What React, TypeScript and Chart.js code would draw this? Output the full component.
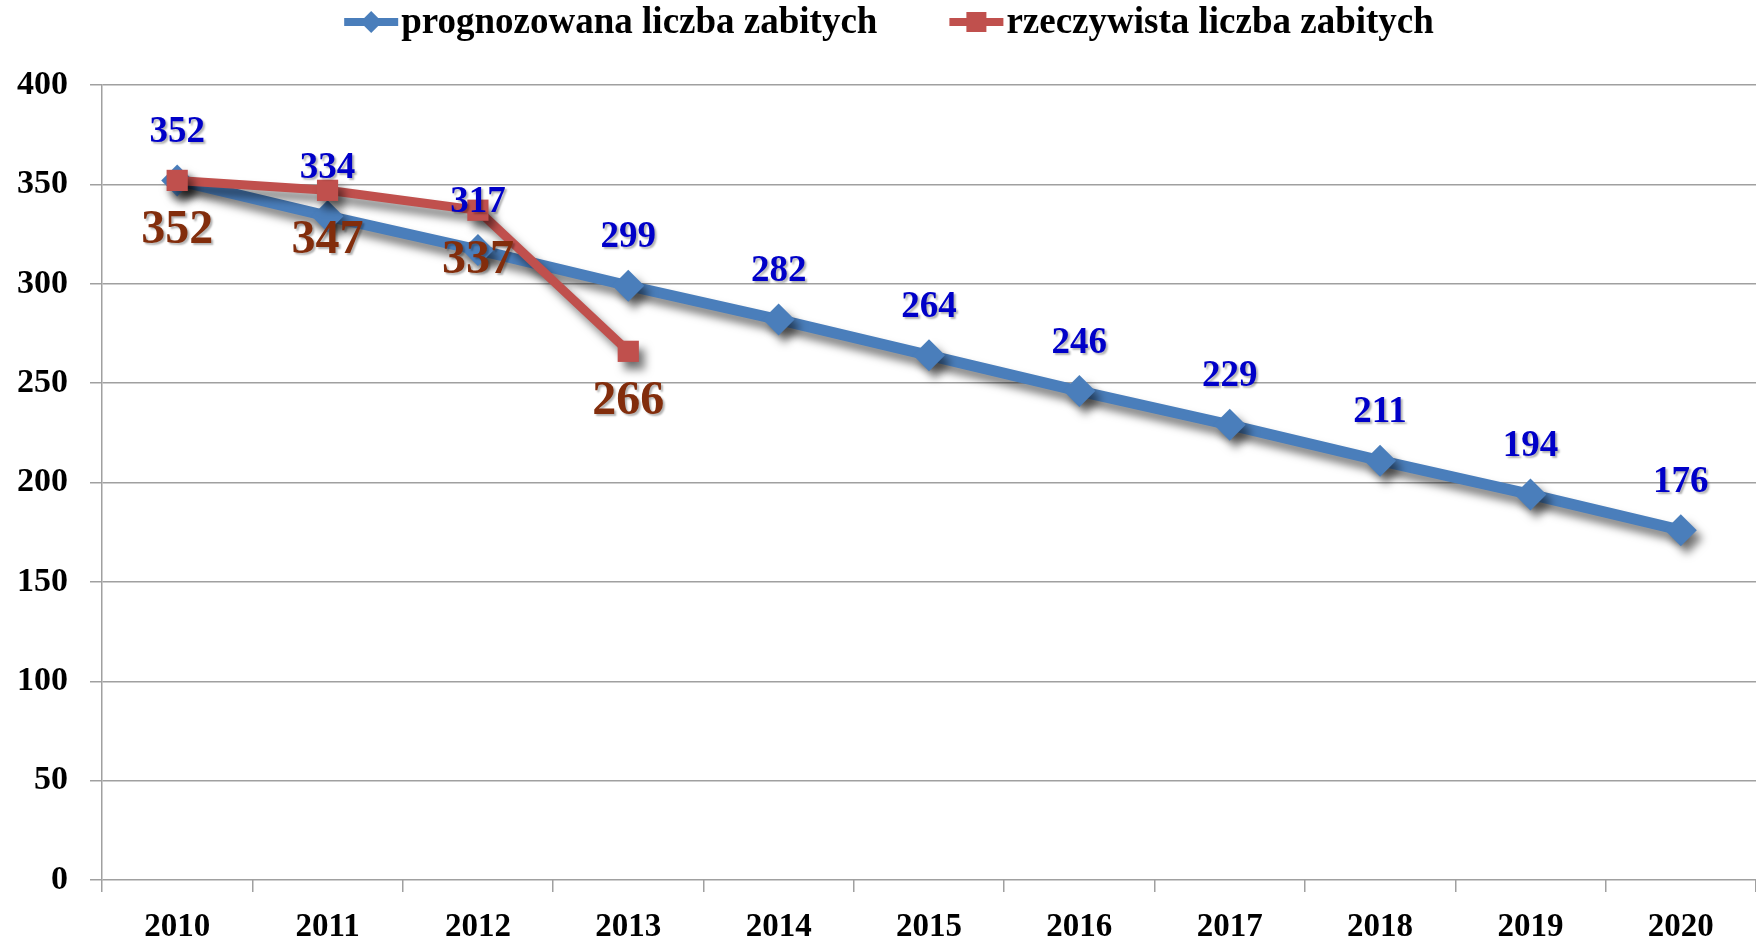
import React, { useEffect, useRef } from 'react';
import { Chart, registerables } from 'chart.js';

Chart.register(...registerables);

const years = ['2010', '2011', '2012', '2013', '2014', '2015', '2016', '2017', '2018', '2019', '2020'];
const forecast = [352, 334, 317, 299, 282, 264, 246, 229, 211, 194, 176];
const actual = [352, 347, 337, 266];
const seriesNames = ['prognozowana liczba zabitych', 'rzeczywista liczba zabitych'];
const yMin = 0;
const yMax = 400;
const yStep = 50;

const BLUE = '#4A7EBB';
const RED = '#C0504D';
const FONT = '"Liberation Serif", "Times New Roman", serif';

const shadowPlugin = {
  id: 'dsShadow',
  beforeDatasetDraw(chart: any) {
    const ctx = chart.ctx;
    ctx.save();
    ctx.shadowColor = 'rgba(0,0,0,0.5)';
    ctx.shadowBlur = 9;
    ctx.shadowOffsetX = 6;
    ctx.shadowOffsetY = 8;
  },
  afterDatasetDraw(chart: any) {
    chart.ctx.restore();
  },
};

const labelPlugin = {
  id: 'valueLabels',
  afterDatasetsDraw(chart: any) {
    const ctx = chart.ctx;
    chart.data.datasets.forEach((ds: any, i: number) => {
      const meta = chart.getDatasetMeta(i);
      const st = ds.labelStyle;
      ctx.save();
      ctx.font = `bold ${st.size}px ${FONT}`;
      ctx.fillStyle = st.color;
      ctx.textAlign = 'center';
      ctx.textBaseline = 'middle';
      ctx.shadowColor = 'rgba(0,0,0,0.3)';
      ctx.shadowBlur = 2;
      ctx.shadowOffsetX = 2;
      ctx.shadowOffsetY = 2;
      meta.data.forEach((pt: any, j: number) => {
        const v = ds.data[j];
        if (v == null) return;
        ctx.fillText(String(v), pt.x, pt.y + st.dy);
      });
      ctx.restore();
    });
  },
};

const legendPlugin = {
  id: 'customLegend',
  afterDraw(chart: any) {
    const ctx = chart.ctx;
    const order = [1, 0];
    const iconW = 54;
    const gapText = 3;
    const gapItem = 72;
    ctx.save();
    ctx.font = `bold 37px ${FONT}`;
    const widths = order.map((i) => ctx.measureText(chart.data.datasets[i].label).width);
    const total = widths.reduce((a: number, w: number) => a + iconW + gapText + w, 0) + gapItem;
    let x = chart.width / 2 + 11 - total / 2;
    const y = 22;
    order.forEach((i, k) => {
      const ds = chart.data.datasets[i];
      ctx.strokeStyle = ds.borderColor;
      ctx.fillStyle = ds.borderColor;
      ctx.lineWidth = 8;
      ctx.beginPath();
      ctx.moveTo(x, y);
      ctx.lineTo(x + iconW, y);
      ctx.stroke();
      const cx = x + iconW / 2;
      ctx.beginPath();
      if (ds.pointStyle === 'rectRot') {
        ctx.moveTo(cx, y - 11);
        ctx.lineTo(cx + 11, y);
        ctx.lineTo(cx, y + 11);
        ctx.lineTo(cx - 11, y);
        ctx.closePath();
        ctx.fill();
      } else {
        ctx.fillRect(cx - 10, y - 10, 20, 20);
      }
      ctx.fillStyle = '#000';
      ctx.textAlign = 'left';
      ctx.textBaseline = 'middle';
      ctx.fillText(ds.label, x + iconW + gapText, y + 1);
      x += iconW + gapText + widths[k] + gapItem;
    });
    ctx.restore();
  },
};

export default function App() {
  const ref = useRef<HTMLCanvasElement | null>(null);

  useEffect(() => {
    document.body.style.margin = '0';
    document.body.style.overflow = 'hidden';
    const canvas = ref.current;
    if (!canvas) return;
    const chart = new Chart(canvas, {
      type: 'line',
      data: {
        labels: years,
        datasets: [
          {
            label: seriesNames[1],
            data: actual,
            borderColor: RED,
            backgroundColor: RED,
            borderWidth: 9,
            pointStyle: 'rect',
            pointRadius: 15,
            pointBorderWidth: 0,
            pointBackgroundColor: RED,
            tension: 0,
            labelStyle: { size: 48, color: '#822D0C', dy: 50 },
          } as any,
          {
            label: seriesNames[0],
            data: forecast,
            borderColor: BLUE,
            backgroundColor: BLUE,
            borderWidth: 11,
            pointStyle: 'rectRot',
            pointRadius: 16,
            pointBorderWidth: 0,
            pointBackgroundColor: BLUE,
            tension: 0,
            labelStyle: { size: 37, color: '#0000C8', dy: -48 },
          } as any,
        ],
      },
      options: {
        animation: false,
        responsive: false,
        devicePixelRatio: 1,
        layout: { autoPadding: false, padding: { top: 85, left: 0, right: 0, bottom: 0 } },
        font: { family: FONT },
        plugins: {
          legend: { display: false },
          tooltip: { enabled: false },
        },
        scales: {
          x: {
            offset: true,
            grid: {
              display: true,
              offset: true,
              drawOnChartArea: false,
              drawTicks: true,
              tickLength: 12,
              color: '#A0A0A0',
              lineWidth: 1.5,
            },
            border: { display: false },
            ticks: {
              font: { family: FONT, size: 33, weight: 'bold' },
              color: '#000',
              padding: 16,
              maxRotation: 0,
            },
            afterFit: (s: any) => {
              s.height = 64;
              s.paddingLeft = 0;
              s.paddingRight = 0;
            },
          },
          y: {
            min: yMin,
            max: yMax,
            ticks: {
              stepSize: yStep,
              font: { family: FONT, size: 34, weight: 'bold' },
              color: '#000',
              padding: 22,
            },
            grid: { color: '#A0A0A0', lineWidth: 1.5, tickLength: 12 },
            border: { color: '#A0A0A0', width: 1.5 },
            afterFit: (s: any) => {
              s.width = 102;
            },
          },
        },
      } as any,
      plugins: [shadowPlugin, labelPlugin, legendPlugin],
    });
    return () => chart.destroy();
  }, []);

  return (
    <div style={{ position: 'absolute', left: 0, top: 0, width: 1756, height: 944, background: '#fff', overflow: 'hidden' }}>
      <canvas ref={ref} width={1756} height={944} style={{ display: 'block' }} />
    </div>
  );
}
